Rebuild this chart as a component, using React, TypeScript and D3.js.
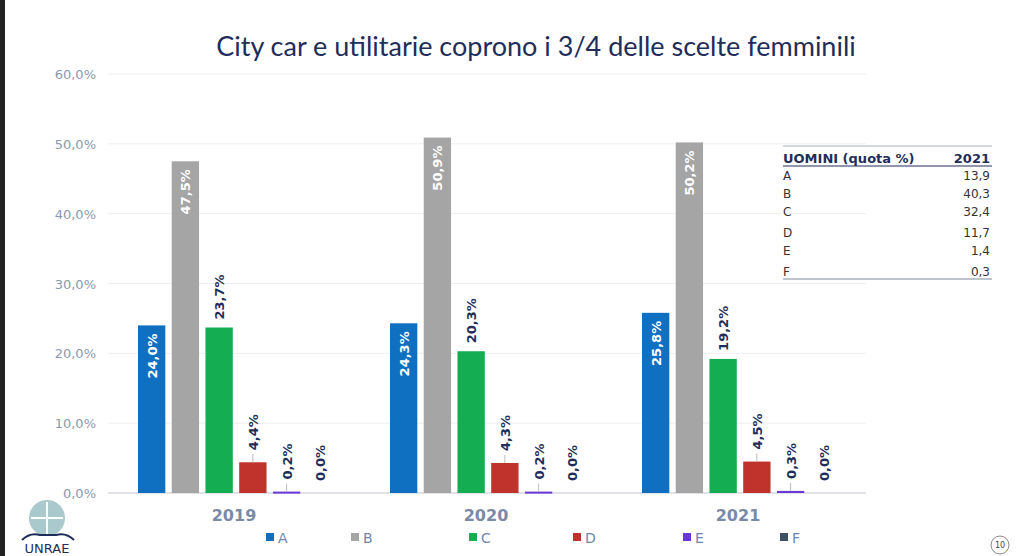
import * as d3 from 'd3';
import React from 'react';

const years = ['2019', '2020', '2021'];
const segments = ['A', 'B', 'C', 'D', 'E', 'F'];
const colors = ['#0f6fc0', '#a5a5a5', '#15ad52', '#c0322c', '#6a38d6', '#3c4f63'];
const values: number[][] = [
  [24.0, 47.5, 23.7, 4.4, 0.2, 0.0],
  [24.3, 50.9, 20.3, 4.3, 0.2, 0.0],
  [25.8, 50.2, 19.2, 4.5, 0.3, 0.0],
];
const yTicks = [0, 10, 20, 30, 40, 50, 60];
const menRows = ['A', 'B', 'C', 'D', 'E', 'F'];
const menValues = ['13,9', '40,3', '32,4', '11,7', '1,4', '0,3'];

const W = 1024, H = 556;
const fmt = (v: number) => v.toFixed(1).replace('.', ',') + '%';

export default function App() {
  const x0 = d3.scaleBand().domain(years).range([110, 866]);
  const x1 = d3.scaleBand().domain(segments).range([28, 224]).paddingInner(0.19);
  const y = d3.scaleLinear().domain([0, 60]).range([493, 74]);
  const navy = '#1f2d5a';
  return (
    <svg width={W} height={H} style={{ position: 'absolute', left: 0, top: 0, background: '#fff' }}
      fontFamily="Verdana, 'DejaVu Sans', sans-serif">
      <rect x={0} y={0} width={5} height={H} fill="#222" />
      <text x={536} y={56} textAnchor="middle" fontSize={27} fill={navy} fontFamily="Lato, sans-serif">
        City car e utilitarie coprono i 3/4 delle scelte femminili
      </text>
      {yTicks.map(t => (
        <g key={t}>
          <line x1={108} x2={866} y1={y(t)} y2={y(t)} stroke={t === 0 ? '#d6d9e0' : '#eceef2'} strokeWidth={t === 0 ? 1.5 : 1} />
          <text x={96} y={y(t) + 5} textAnchor="end" fontSize={13} fill="#8a99b0">{fmt(t)}</text>
        </g>
      ))}
      {years.map((yr, gi) => (
        <g key={yr} transform={`translate(${x0(yr)},0)`}>
          {segments.map((s, si) => {
            const v = values[gi][si];
            const bx = x1(s)!;
            const bw = x1.bandwidth();
            const top = y(v);
            const inside = si < 2;
            const cx = bx + bw / 2;
            const ly = inside ? top + 8 : top - 8;
            return (
              <g key={s}>
                <rect x={bx} y={top} width={bw} height={Math.max(493 - top, v > 0 ? 2 : 0)} fill={colors[si]} />
                {!inside && si > 2 && v > 0 && <line x1={cx} x2={cx} y1={top} y2={top - 8} stroke="#bbb" />}
                <text transform={`translate(${cx + 5},${inside ? ly : (si > 2 ? ly - 4 : ly)}) rotate(-90)`}
                  textAnchor={inside ? 'end' : 'start'} fontSize={13} fontWeight="bold"
                  fill={inside ? '#fff' : navy}>{fmt(v)}</text>
              </g>
            );
          })}
          <text x={x0.bandwidth() / 2 - 2} y={521} textAnchor="middle" fontSize={16} fontWeight="bold" fill="#7a8aa6">{yr}</text>
        </g>
      ))}
      {segments.map((s, i) => {
        const lx = [266, 351, 469, 573, 683, 780][i];
        return (
          <g key={s}>
            <rect x={lx} y={533} width={8} height={8} fill={colors[i]} />
            <text x={lx + 12} y={543} fontSize={14} fill="#6f86b0">{s}</text>
          </g>
        );
      })}
      <line x1={783} x2={992} y1={146} y2={146} stroke="#a8b0bf" />
      <text x={783} y={163} fontSize={13} fontWeight="bold" fill={navy}>UOMINI (quota %)</text>
      <text x={990} y={163} textAnchor="end" fontSize={13} fontWeight="bold" fill={navy}>2021</text>
      <line x1={783} x2={992} y1={166} y2={166} stroke={navy} />
      {menRows.map((r, i) => {
        const ry = [180, 198, 216, 237, 255, 276][i];
        return (
          <g key={r}>
            <text x={783} y={ry} fontSize={12} fill="#333">{r}</text>
            <text x={990} y={ry} textAnchor="end" fontSize={12} fill="#333">{menValues[i]}</text>
          </g>
        );
      })}
      <line x1={783} x2={992} y1={279} y2={279} stroke="#a8b0bf" strokeWidth={1.5} />
      <g>
        <circle cx={47} cy={518} r={18} fill="#a9c9cc" />
        <path d="M31,518 H63 M47,502 V534" stroke="#fff" strokeWidth={2} />
        <path d="M22,540 Q30,532 40,535 H56 Q66,532 74,540" fill="none" stroke={navy} strokeWidth={2} />
        <text x={47} y={553} textAnchor="middle" fontSize={13} fill={navy}>UNRAE</text>
      </g>
      <circle cx={1000} cy={545} r={9} fill="#fff" stroke="#888" />
      <text x={1000} y={548} textAnchor="middle" fontSize={8} fill="#444">10</text>
    </svg>
  );
}
